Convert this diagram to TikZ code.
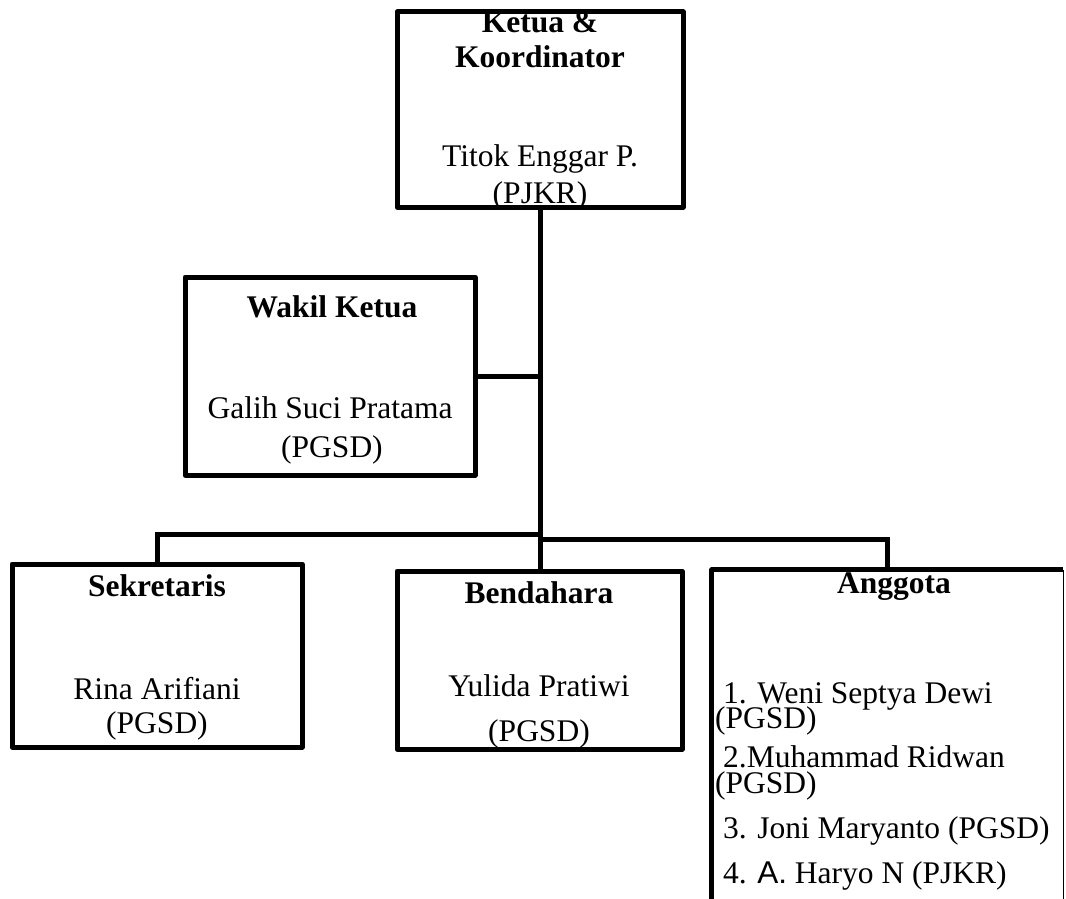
\documentclass[tikz,border=0pt]{standalone}
\usepackage{fontspec}
\setmainfont{Liberation Serif}
\newfontfamily\sansA{Liberation Sans}
\begin{document}
\begin{tikzpicture}[x=1pt,y=-1pt,
  box/.style={draw, line width=5pt, rectangle, inner sep=0pt, line join=round},
  tn/.style={anchor=base, inner sep=0pt, font=\fontsize{31.5}{36}\selectfont},
  tb/.style={anchor=base, inner sep=0pt, font=\fontsize{31.5}{36}\selectfont\bfseries},
  tl/.style={anchor=base west, inner sep=0pt, font=\fontsize{31.5}{36}\selectfont},
  link/.style={line width=5pt}]
\useasboundingbox (0,0) rectangle (1066,899);
\clip (0,0) rectangle (1066,899);
% boxes
\node[box, minimum width=286pt, minimum height=195pt] (ketua) at (540,109.5) {};
\node[box, minimum width=290pt, minimum height=198pt] (wakil) at (330,376) {};
\node[box, minimum width=290pt, minimum height=183pt] (sek) at (157,655.5) {};
\node[box, minimum width=285pt, minimum height=178pt] (bend) at (539.5,660) {};
\node[inner sep=0pt, minimum width=351pt, minimum height=350pt] (ang) at (887.5,745) {};
\draw[line width=5pt, line join=round] (ang.south west) -- (ang.north west) -- (ang.north east);
\draw[line width=1pt] (ang.north east) -- (ang.south east);
% connectors
\coordinate (jl) at (541,534);
\coordinate (jr) at (541,539.5);
\draw[link] (ketua.south) -- (ketua.south |- bend.north);
\draw[link] (wakil.east) -- (wakil.east -| ketua.south);
\draw[link] (sek.north) |- (jl);
\draw[link] (ang.north) |- (jr);
% texts
\node[tb] (k1) at (540,33) {Ketua \&};
\node[tb] (k2) at (540,67) {Koordinator};
\node[tn] (k3) at (540,166) {Titok Enggar P.};
\node[tn] (k4) at (540,203) {(PJKR)};
\node[tb] (w1) at (332,317) {Wakil Ketua};
\node[tn] (w2) at (330,418) {Galih Suci Pratama};
\node[tn] (w3) at (332,457) {(PGSD)};
\node[tb] (s1) at (157,596) {Sekretaris};
\node[tn] (s2) at (157,699) {Rina Arifiani};
\node[tn] (s3) at (157,733) {(PGSD)};
\node[tb] (b1) at (539,603) {Bendahara};
\node[tn] (b2) at (539,696) {Yulida Pratiwi};
\node[tn] (b3) at (539,741) {(PGSD)};
\node[tb] (a0) at (894,593) {Anggota};
\node[tl] (a1) at (723,703) {1. Weni Septya Dewi};
\node[tl] (a2) at (715,728) {(PGSD)};
\node[tl] (a3) at (723,767) {2.Muhammad Ridwan};
\node[tl] (a4) at (715,793) {(PGSD)};
\node[tl] (a5) at (723,838) {3. Joni Maryanto (PGSD)};
\node[tl] (a6) at (723,883) {4. {\sansA A.} Haryo N (PJKR)};
\end{tikzpicture}
\end{document}
